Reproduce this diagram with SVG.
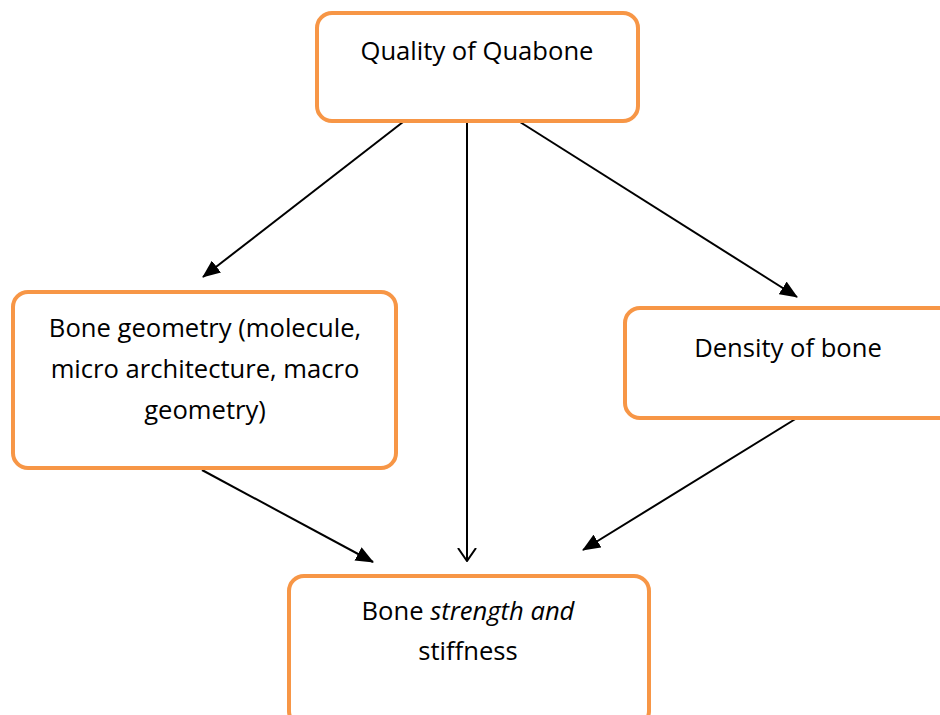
<svg xmlns="http://www.w3.org/2000/svg" width="940" height="715" viewBox="0 0 940 715">
  <style>
    .box { fill: #ffffff; stroke: #F79646; stroke-width: 4; }
    .lbl { font-family: "Open Sans", "Liberation Sans", sans-serif; font-size: 25.6px; fill: #000000; text-anchor: middle; }
    .con { stroke: #000000; stroke-width: 2; fill: none; }
  </style>
  <defs>
    <marker id="solid" markerWidth="18" markerHeight="15" refX="17" refY="7.5" orient="auto" markerUnits="userSpaceOnUse">
      <path d="M0,0 L18,7.5 L0,15 Z" fill="#000000"/>
    </marker>
    <marker id="open" markerWidth="14" markerHeight="20" refX="13" refY="10" orient="auto" markerUnits="userSpaceOnUse">
      <path d="M0,1 L13,10 L0,19" fill="none" stroke="#000000" stroke-width="2"/>
    </marker>
  </defs>
  <rect width="940" height="715" fill="#ffffff"/>

  <g id="connectors">
    <line class="con" x1="403" y1="122" x2="203" y2="277" marker-end="url(#solid)"/>
    <line class="con" x1="467" y1="122" x2="467" y2="561" marker-end="url(#open)"/>
    <line class="con" x1="520" y1="122" x2="797" y2="297" marker-end="url(#solid)"/>
    <line class="con" x1="202" y1="470" x2="373" y2="562" marker-end="url(#solid)"/>
    <line class="con" x1="797" y1="418" x2="583" y2="550" marker-end="url(#solid)"/>
  </g>

  <g id="quality">
    <rect class="box" x="317" y="13" width="321" height="108" rx="15"/>
    <text class="lbl" x="477" y="60">Quality of Quabone</text>
  </g>

  <g id="geometry">
    <rect class="box" x="13" y="292" width="383" height="176" rx="15"/>
    <text class="lbl" x="205" y="337">Bone geometry (molecule,</text>
    <text class="lbl" x="205" y="378">micro architecture, macro</text>
    <text class="lbl" x="205" y="419">geometry)</text>
  </g>

  <g id="density">
    <rect class="box" x="625" y="308" width="330" height="110" rx="15"/>
    <text class="lbl" x="788" y="357">Density of bone</text>
  </g>

  <g id="strength">
    <rect class="box" x="289" y="576" width="360" height="150" rx="15"/>
    <text class="lbl" x="468" y="620">Bone <tspan font-style="italic">strength and</tspan></text>
    <text class="lbl" x="468" y="660">stiffness</text>
  </g>
</svg>
